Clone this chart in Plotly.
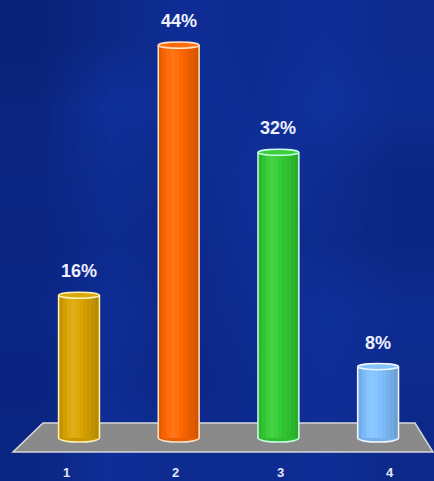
import base64, struct, zlib
import plotly.graph_objects as go

# ---- data ----
categories = [1, 2, 3, 4]
values = [16, 44, 32, 8]
value_labels = ["16%", "44%", "32%", "8%"]
tick_labels = ["1", "2", "3", "4"]

# ---- style ----
base_colors = [(218, 165, 0), (255, 102, 0), (51, 204, 51), (128, 192, 255)]
outline_colors = ["#fff2b8", "#ffe4c8", "#c8ffe8", "#f2f8ff"]
shade_profile = [0.9, 0.97, 1.03, 1.06, 1.04, 1.0, 0.96, 0.92, 0.88, 0.84]
label_xshift = [-13, -3, 2, 12]

W, H = 434, 481
BAR_W = 0.41
XR = [0.2076, 0.2076 + 434 / 99.7]
YR = [-4.81, -4.81 + 481 / 8.93]

def shade(c, f):
    if f >= 1:
        t = min(f - 1, 1) * 1.6
        return "rgb(%d,%d,%d)" % tuple(int(round(v + (255 - v) * t)) for v in c)
    return "rgb(%d,%d,%d)" % tuple(int(round(v * f)) for v in c)

def png_uri(rows):
    h = len(rows); w = len(rows[0])
    raw = b"".join(b"\x00" + bytes(ch for px in row for ch in px) for row in rows)
    def chunk(t, d):
        return struct.pack(">I", len(d)) + t + d + struct.pack(">I", zlib.crc32(t + d) & 0xffffffff)
    png = (b"\x89PNG\r\n\x1a\n" + chunk(b"IHDR", struct.pack(">IIBBBBB", w, h, 8, 2, 0, 0, 0))
           + chunk(b"IDAT", zlib.compress(raw)) + chunk(b"IEND", b""))
    return "data:image/png;base64," + base64.b64encode(png).decode()

def hx(s):
    return tuple(int(s[i:i + 2], 16) for i in (1, 3, 5))

bg_grid = [
    ["#0a2278", "#0c2886", "#0f2d95", "#0e2b90", "#0f2e98", "#0d2a8c"],
    ["#0b257e", "#10309a", "#0f2e96", "#0e2c92", "#11329e", "#0e2c90"],
    ["#0b2682", "#0e2c92", "#0d2a8a", "#10309a", "#0e2c90", "#0b2682"],
    ["#0a2480", "#0d2a8e", "#0c2888", "#0f2e96", "#0d2a8c", "#0b2682"],
    ["#0b2684", "#0f2e96", "#0c2886", "#0e2c92", "#10309a", "#0e2c90"],
    ["#0a2380", "#0e2c92", "#0b2684", "#0d2a8e", "#0f2e98", "#0d2a8c"],
    ["#0b2682", "#0f2e98", "#0e2b90", "#0d2a8e", "#0f2e96", "#0c2888"],
]
bg_uri = png_uri([[hx(c) for c in row] for row in bg_grid])

fig = go.Figure()
n = len(shade_profile)
sw = BAR_W / n
for k, f in enumerate(shade_profile):
    wk = sw * 1.35 if k < n - 1 else sw
    fig.add_trace(go.Bar(
        x=categories, y=values,
        width=[wk] * len(categories),
        offset=[-BAR_W / 2 + k * sw] * len(categories),
        marker=dict(color=[shade(c, f) for c in base_colors], line=dict(width=0)),
        hoverinfo="skip", showlegend=False,
    ))

shapes = []
# floor
fx0, fx1, fx2, fx3 = 0.639, 4.370, 4.551, 0.338
fy_top, fy_bot = 1.68, -1.57
shapes.append(dict(type="path", xref="x", yref="y", layer="below",
                   path=f"M {fx0},{fy_top} L {fx1},{fy_top} L {fx2},{fy_bot} L {fx3},{fy_bot} Z",
                   fillcolor="#8a8a8a", line=dict(color="#d8d8d8", width=1.5)))
cap_h = 0.34
bot_h = 0.45
for x, v, c, oc in zip(categories, values, base_colors, outline_colors):
    shapes.append(dict(type="circle", xref="x", yref="y", layer="below",
                       x0=x - BAR_W / 2, x1=x + BAR_W / 2, y0=-bot_h, y1=bot_h,
                       fillcolor=shade(c, 0.92), line=dict(color=oc, width=1.5)))
    for sx in (x - BAR_W / 2, x + BAR_W / 2):
        shapes.append(dict(type="line", xref="x", yref="y", layer="above",
                           x0=sx, x1=sx, y0=0, y1=v, line=dict(color=oc, width=1.5)))
    shapes.append(dict(type="circle", xref="x", yref="y", layer="above",
                       x0=x - BAR_W / 2, x1=x + BAR_W / 2, y0=v - cap_h, y1=v + cap_h,
                       fillcolor=shade(c, 1.03), line=dict(color=oc, width=1.5)))

annotations = []
for x, v, t in zip(categories, values, value_labels):
    annotations.append(dict(x=x, y=v, xref="x", yref="y", text=t, showarrow=False,
                            yanchor="bottom", yshift=12,
                            font=dict(family="Liberation Sans, Arial, sans-serif", size=18,
                                      color="#eef0ff", weight="bold")))
for x, t, dx in zip(categories, tick_labels, label_xshift):
    annotations.append(dict(x=x, y=1 - 472 / H, xref="x", yref="paper", text=t, showarrow=False,
                            yanchor="middle", xshift=dx,
                            font=dict(family="Liberation Sans, Arial, sans-serif", size=13,
                                      color="#e4e8ff", weight="bold")))

fig.update_layout(
    width=W, height=H, margin=dict(l=0, r=0, t=0, b=0),
    paper_bgcolor="#0d2a8c", plot_bgcolor="rgba(0,0,0,0)",
    barmode="overlay", bargap=0,
    xaxis=dict(range=XR, visible=False, fixedrange=True),
    yaxis=dict(range=YR, visible=False, fixedrange=True),
    shapes=shapes, annotations=annotations,
    images=[dict(source=bg_uri, xref="paper", yref="paper", x=0, y=1, sizex=1, sizey=1,
                 xanchor="left", yanchor="top", sizing="stretch", layer="below")],
    showlegend=False,
)
fig.write_html("out.html", config={"displayModeBar": False},
               post_script="document.body.style.margin='0';document.body.style.overflow='hidden';")
